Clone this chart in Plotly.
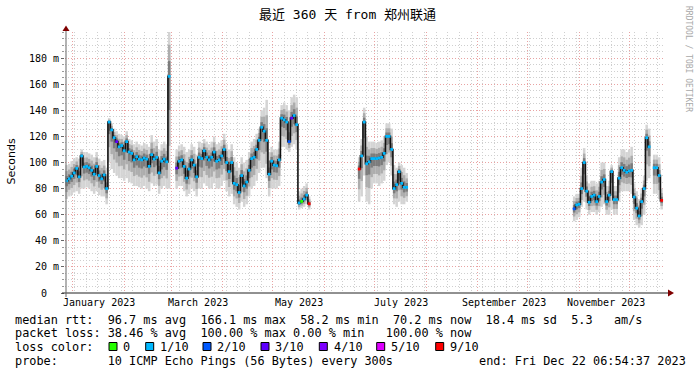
import plotly.graph_objects as go
from datetime import datetime, timedelta

# ---------------- data ----------------
START = datetime(2022, 12, 27, 6, 54, 37)
END = datetime(2023, 12, 22, 6, 54, 37)
STEP_DAYS = 1.5          # spacing of the consolidated samples
FIRST_DAY = 1.0          # first sample offset from START (days)
N = None

# median rtt (ms) per sample; None = 100 % loss (no data)
median_ms = [
    86, 87.5, 89.5, 92, 95.5, 89, 105, 96.5, 97, 96,
    94, 91, 97, 90, 87.5, 90.5, 80, 131, 125, 119,
    116, 112, 113, 109, 116, 108, 107, 102, 104.5, 102.5,
    102, 103.4, 102.6, 97, 106, 102.6, 104, 92, 101, 102.6,
    100.5, 166,
    N, N,
    95.7, 101, 102, 97, 88, 95, 102, 98, 89, 104,
    103, 109, 104, 102, 104, 108, 101, 102, 105, 110,
    100, 93, 100, 84, 83, 77, 90, 82, 85, 94,
    103, 104, 110, 117, 127, 124, 117, 91, 101, 98,
    97.5, 102, 134, 132.7, 131, 116, 134, 136, 129, 69,
    70.2, 72, 75, 68.4,
    *[N] * 19,
    95, 105, 131, 99, 100.5, 103, 103, 103, 103.4, 104,
    107, 120, 120, 110, 80, 83, 93, 84, 81, 81,
    *[N] * 66,
    64.5, 67.5, 68, 80, 100, 78, 69.5, 74, 75, 70,
    74, 85, 87, 70, 75, 93, 71.5, 71.5, 88, 96,
    94, 92.5, 93.5, 94, 73.5, 65, 59, 70, 80, 119,
    112,
    N,
    96, 96, 90, 71,
]

# lowest ping of the smoke (ms)
smoke_lo = [
    72, 74, 75, 77, 78, 76, 80, 80, 81, 80,
    78, 76, 78, 75, 74, 74, 68, 100, 95, 92,
    90, 88, 88, 86, 88, 85, 84, 82, 82, 81,
    80, 82, 80, 78, 84, 82, 83, 76, 80, 82,
    80, 80,
    N, N,
    80, 82, 82, 78, 74, 76, 80, 78, 74, 80,
    80, 84, 82, 80, 80, 84, 80, 80, 82, 86,
    78, 74, 76, 68, 66, 64, 70, 66, 68, 74,
    80, 82, 86, 92, 96, 96, 88, 74, 80, 80,
    80, 82, 112, 112, 110, 108, 112, 114, 110, 64,
    65, 66, 68, 64,
    *[N] * 19,
    70, 74, 90, 70, 68, 80, 84, 84, 82, 84,
    86, 98, 100, 90, 68, 66, 70, 68, 68, 70,
    *[N] * 66,
    55, 56, 58, 66, 70, 64, 60, 62, 62, 60,
    62, 66, 68, 60, 60, 64, 60, 60, 70, 78,
    78, 78, 78, 76, 56, 52, 50, 52, 60, 86,
    88,
    N,
    76, 76, 72, 64,
]

# highest ping of the smoke (ms)
smoke_hi = [
    98, 99, 101, 103, 104, 103, 110, 108, 108, 107,
    106, 104, 108, 103, 101, 102, 96, 134, 130, 126,
    124, 122, 121, 120, 124, 118, 117, 114, 116, 114,
    113, 115, 114, 112, 121, 116, 118, 110, 114, 116,
    114, 205,
    N, N,
    110, 113, 114, 112, 108, 110, 114, 112, 106, 116,
    115, 118, 116, 114, 116, 120, 114, 115, 117, 122,
    114, 110, 114, 104, 100, 96, 104, 100, 102, 108,
    116, 118, 122, 126, 140, 142, 148, 108, 112, 110,
    110, 116, 144, 146, 144, 140, 150, 152, 150, 78,
    80, 82, 84, 74,
    *[N] * 19,
    104, 118, 142, 120, 116, 116, 116, 115, 116, 117,
    120, 130, 130, 126, 98, 96, 100, 98, 96, 92,
    *[N] * 66,
    74, 76, 76, 96, 111, 90, 84, 86, 86, 84,
    86, 100, 100, 82, 86, 98, 82, 82, 104, 110,
    110, 108, 110, 112, 84, 78, 72, 80, 90, 129,
    126,
    N,
    106, 106, 104, 80,
]

# lost pings out of 10 per sample
loss = [
    1, 1, 1, 1, 1, 1, 1, 1, 1, 1,
    1, 1, 1, 1, 1, 1, 1, 1, 1, 1,
    3, 1, 1, 1, 1, 1, 1, 1, 1, 1,
    1, 1, 1, 1, 1, 1, 1, 1, 1, 1,
    1, 1,
    N, N,
    3, 1, 1, 1, 1, 1, 1, 1, 1, 1,
    1, 1, 1, 1, 1, 1, 1, 1, 1, 1,
    1, 1, 1, 1, 1, 1, 1, 1, 1, 1,
    1, 1, 1, 1, 1, 1, 1, 1, 1, 1,
    1, 1, 1, 1, 1, 2, 3, 1, 1, 1,
    0, 1, 1, 9,
    *[N] * 19,
    9, 1, 1, 1, 1, 1, 1, 1, 1, 1,
    1, 1, 1, 1, 1, 1, 1, 1, 1, 1,
    *[N] * 66,
    2, 1, 1, 1, 1, 1, 1, 1, 1, 1,
    1, 1, 1, 1, 1, 1, 1, 1, 1, 1,
    1, 1, 1, 1, 1, 1, 1, 1, 1, 1,
    1,
    N,
    1, 1, 1, 9,
]

loss_labels = ["0", "1/10", "2/10", "3/10", "4/10", "5/10", "9/10"]
loss_values = [0, 1, 2, 3, 4, 5, 9]
loss_colors = ["#26ff00", "#00b8ff", "#0059ff", "#5e00ff", "#7e00ff", "#dd00ff", "#ff0000"]

y_tick_vals = [0, 20, 40, 60, 80, 100, 120, 140, 160, 180]
y_tick_text = ["0\u00a0\u00a0", "20 m", "40 m", "60 m", "80 m", "100 m",
               "120 m", "140 m", "160 m", "180 m"]
month_labels = ["January 2023", "March 2023", "May 2023", "July 2023",
                "September 2023", "November 2023"]
month_label_pos = ["2023-01-16 20:00", "2023-03-16 20:00", "2023-05-16 20:00",
                   "2023-07-16 20:00", "2023-09-16 20:00", "2023-11-16 20:00"]
month_starts = ["2022-12-01", "2023-01-01", "2023-02-01", "2023-03-01", "2023-04-01",
                "2023-05-01", "2023-06-01", "2023-07-01", "2023-08-01", "2023-09-01",
                "2023-10-01", "2023-11-01", "2023-12-01"]

title_text = "最近 360 天 from 郑州联通"
legend_rtt = "median rtt:  96.7 ms avg  166.1 ms max  58.2 ms min  70.2 ms now  18.4 ms sd  5.3   am/s"
legend_loss = "packet loss: 38.46 % avg  100.00 % max 0.00 % min   100.00 % now"
legend_probe = "probe:       10 ICMP Echo Pings (56 Bytes) every 300s"
legend_end = "end: Fri Dec 22 06:54:37 2023"

assert len(median_ms) == len(smoke_lo) == len(smoke_hi) == len(loss)

# ---------------- figure ----------------
W, H = 697, 375
L, R, T, B = 65, 32, 32, 82
PW, PH = W - L - R, H - T - B
MONO = "DejaVu Sans Mono, Noto Sans CJK SC, monospace"


def px(x):
    return (x - L) / PW


def py(y):
    return (H - B - y) / PH


def nb(s):
    return s.replace(" ", "\u00a0")


xs = [START + timedelta(days=FIRST_DAY + STEP_DAYS * i) for i in range(len(median_ms))]
bar_w = STEP_DAYS * 86400000

fig = go.Figure()

# smoke: shaded layers from the lowest to the highest ping
for frac, col in [(1.0, "#d4d4d4"), (0.62, "#adadad"), (0.3, "#7c7c7c")]:
    bases, heights = [], []
    for m, lo, hi in zip(median_ms, smoke_lo, smoke_hi):
        if m is None:
            bases.append(None)
            heights.append(None)
        else:
            b0 = m - frac * (m - lo)
            t0 = m + frac * (hi - m)
            bases.append(b0)
            heights.append(t0 - b0)
    fig.add_trace(go.Bar(x=xs, y=heights, base=bases, width=bar_w,
                         marker=dict(color=col, line=dict(width=0)),
                         hoverinfo="skip"))

# median line
fig.add_trace(go.Scatter(x=xs, y=median_ms, mode="lines", connectgaps=False,
                         line=dict(color="#111111", width=1.6, shape="hvh"),
                         hoverinfo="skip"))
cmap = dict(zip(loss_values, loss_colors))
mcol = [cmap[v] if v is not None else "#ffffff" for v in loss]
fig.add_trace(go.Scatter(x=xs, y=median_ms, mode="markers",
                         marker=dict(symbol="square", size=2.8, color=mcol,
                                     line=dict(width=0)),
                         hoverinfo="skip"))

shapes = []
# axes lines and arrows
shapes.append(dict(type="line", xref="paper", yref="paper",
                   x0=px(62), x1=px(669), y0=py(293), y1=py(293),
                   line=dict(color="#222222", width=1)))
shapes.append(dict(type="line", xref="paper", yref="paper",
                   x0=px(66), x1=px(66), y0=py(297), y1=py(30),
                   line=dict(color="#666666", width=1)))
shapes.append(dict(type="path", xref="paper", yref="paper",
                   path=f"M {px(668)} {py(289.5)} L {px(674)} {py(293)} L {px(668)} {py(296.5)} Z",
                   fillcolor="#7f0000", line=dict(width=0)))
shapes.append(dict(type="path", xref="paper", yref="paper",
                   path=f"M {px(62.5)} {py(31)} L {px(66)} {py(25.5)} L {px(69.5)} {py(31)} Z",
                   fillcolor="#7f0000", line=dict(width=0)))

annotations = []


def ann(text, x, y, size=11.85, xanchor="left", family=MONO, color="#000000", angle=0):
    annotations.append(dict(text=text, x=px(x), y=py(y), xref="paper", yref="paper",
                            xanchor=xanchor, yanchor="middle", showarrow=False,
                            textangle=angle, borderpad=0, borderwidth=0,
                            font=dict(size=size, family=family, color=color)))


ann(nb(title_text), 347.5, 14, size=13, xanchor="center")
ann("Seconds", 10.5, 162, size=11, xanchor="center", family="DejaVu Sans", angle=-90)
ann(nb("RRDTOOL / TOBI OETIKER"), 689, 59, size=8, xanchor="center", color="#a8a8a8", angle=90)

for lab, pos in zip(month_labels, month_label_pos):
    annotations.append(dict(text=nb(lab), x=pos, y=py(302), xref="x", yref="paper",
                            xanchor="center", yanchor="middle", showarrow=False,
                            borderpad=0, font=dict(size=10, family=MONO, color="#000")))

ann(nb(legend_rtt), 14.6, 319.5)
ann(nb(legend_loss), 14.6, 333)
ann(nb("loss color:"), 14.6, 346.7)
ann(nb(legend_probe), 14.6, 360.8)
ann(nb(legend_end), 479, 360.8)

box_x = [109, 145.7, 203, 261, 319.3, 376.7, 435.7]
for bx, lab, col in zip(box_x, loss_labels, loss_colors):
    shapes.append(dict(type="rect", xref="paper", yref="paper",
                       x0=px(bx), x1=px(bx + 8), y0=py(350.5), y1=py(342.5),
                       fillcolor=col, line=dict(color="#000000", width=1)))
    ann(nb(lab), bx + 14.3, 346.7)

fig.update_layout(
    width=W, height=H,
    margin=dict(l=L, r=R, t=T, b=B, pad=0),
    paper_bgcolor="#ffffff", plot_bgcolor="#ffffff",
    showlegend=False, barmode="overlay",
    shapes=shapes, annotations=annotations,
    xaxis=dict(type="date", range=[START, END], tickvals=month_starts,
               showticklabels=False, ticks="", showline=False, zeroline=False,
               showgrid=True, gridcolor="#e9a3a3", gridwidth=1, griddash="1px,2px",
               minor=dict(tick0="2023-01-02", dtick=7 * 86400000, showgrid=True,
                          gridcolor="#cfcfcf", gridwidth=1, griddash="1px,2px")),
    yaxis=dict(range=[0, 200], tickvals=y_tick_vals, ticktext=y_tick_text,
               ticks="outside", ticklen=3, tickcolor="#666666",
               tickfont=dict(size=10, family=MONO, color="#000"),
               showline=False, zeroline=False,
               showgrid=True, gridcolor="#e9a3a3", gridwidth=1, griddash="1px,2px",
               minor=dict(dtick=5, showgrid=True, gridcolor="#cfcfcf", gridwidth=1,
                          griddash="1px,2px", ticks="outside", ticklen=2,
                          tickcolor="#999999")),
)

fig.write_html("out.html", config={"displayModeBar": False},
               post_script="document.body.style.margin='0px';")
